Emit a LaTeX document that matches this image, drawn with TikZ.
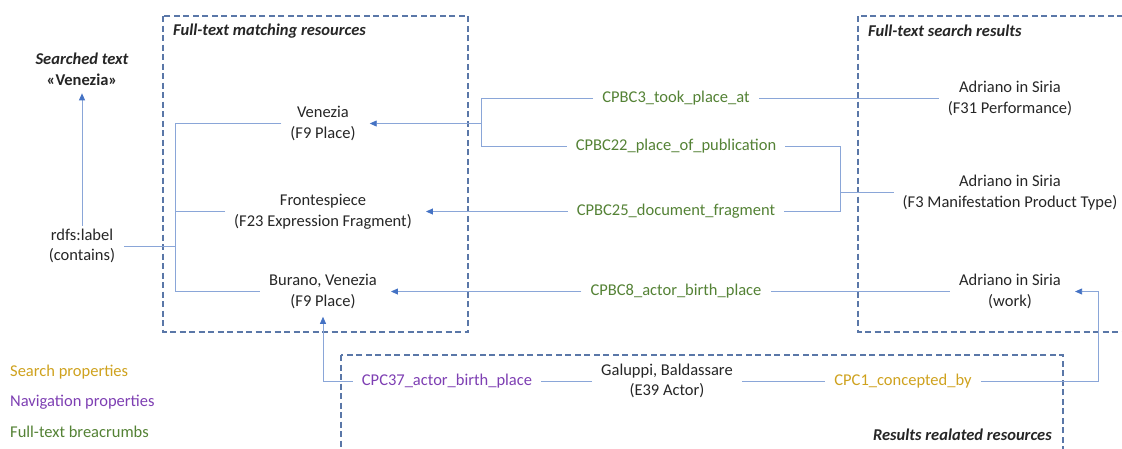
\documentclass[tikz,border=0pt]{standalone}
\usepackage{fontspec}
\setmainfont{Carlito}
\usetikzlibrary{arrows.meta}
\definecolor{txt}{HTML}{262626}
\definecolor{conn}{HTML}{8AA6D8}
\definecolor{tip}{HTML}{4472C4}
\definecolor{grp}{HTML}{5A77A8}
\definecolor{crumb}{HTML}{548235}
\definecolor{nav}{HTML}{7E3FB3}
\definecolor{srch}{HTML}{CFA21E}
\tikzset{
  base/.style={font=\fontsize{16.5}{20.6}\selectfont, text=txt, align=center, inner xsep=9pt, inner ysep=3pt},
  res/.style={base},
  crumblbl/.style={base, text=crumb},
  navlbl/.style={base, text=nav},
  srchlbl/.style={base, text=srch},
  heading/.style={base, font=\fontsize{16.5}{20.6}\selectfont\bfseries\itshape, inner xsep=6pt},
  legend/.style={base, anchor=west, inner xsep=6pt},
  link/.style={draw=conn, line width=0.8pt},
  arr/.style={link, -{Triangle[length=7pt,width=6pt,fill=tip,color=tip]}, shorten >=5pt},
  groupbox/.style={draw=grp, line width=1.2pt, dash pattern=on 6pt off 3.5pt},
}
\begin{document}
\begin{tikzpicture}[x=1pt,y=-1pt]
\clip (0,0) rectangle (1122,448);
\fill[white] (0,0) rectangle (1122,448);

% group frames
\draw[groupbox] (163,16) rectangle (468,332);
\draw[groupbox] (858,16) rectangle (1140,332);
\draw[groupbox] (341,355) rectangle (1063,470);
\node[heading, anchor=west] (hmatch) at (167,31) {Full-text matching resources};
\node[heading, anchor=west] (hsearch) at (862,31) {Full-text search results};
\node[heading, anchor=east] (hrel) at (1058,435) {Results realated resources};

% search input
\node[heading, inner xsep=9pt] (searched) at (82,69) {Searched text\\\upshape«Venezia»};
\node[res] (rdfs) at (82,246) {rdfs:label\\(contains)};

% matching resources
\node[res] (venezia) at (323,123.5) {Venezia\\(F9 Place)};
\node[res] (front) at (323,211.5) {Frontespiece\\(F23 Expression Fragment)};
\node[res] (burano) at (323,291.5) {Burano, Venezia\\(F9 Place)};

% search results
\node[res] (f31) at (1010,98.5) {Adriano in Siria\\(F31 Performance)};
\node[res] (f3) at (1010,192.5) {Adriano in Siria\\(F3 Manifestation Product Type)};
\node[res] (work) at (1010,291.5) {Adriano in Siria\\(work)};

% related resource
\node[res] (galuppi) at (667,381) {Galuppi, Baldassare\\(E39 Actor)};

% breadcrumb properties
\node[crumblbl] (l3) at (676,98.5) {CPBC3\_took\_place\_at};
\node[crumblbl] (l22) at (676,146) {CPBC22\_place\_of\_publication};
\node[crumblbl] (l25) at (676,211.5) {CPBC25\_document\_fragment};
\node[crumblbl] (l8) at (676,291.5) {CPBC8\_actor\_birth\_place};
\node[navlbl] (l37) at (447,381) {CPC37\_actor\_birth\_place};
\node[srchlbl] (l1) at (903,381) {CPC1\_concepted\_by};

% legend
\node[legend, text=srch] (kS) at (4,372) {Search properties};
\node[legend, text=nav] (kN) at (4,402) {Navigation properties};
\node[legend, text=crumb] (kC) at (4,432) {Full-text breacrumbs};

% junction columns
\coordinate (trunk) at (175,0);
\coordinate (jv) at (481,0);
\coordinate (jf) at (840,0);
\coordinate (jw) at (1098,0);

% label search
\draw[arr] (rdfs.north) -- (searched.south);
\draw[link] (rdfs.east) -- (rdfs.east -| trunk);
\draw[link] (venezia.west) -| (burano.west -| trunk) -- (burano.west);
\draw[link] (front.west) -- (front.west -| trunk);

% breadcrumbs to Venezia
\draw[link] (f31.west) -- (l3.east);
\draw[link] (l3.west) -| (l22.west -| jv) -- (l22.west);
\draw[arr] (venezia.east -| jv) -- (venezia.east);

% breadcrumbs from the manifestation
\draw[link] (l22.east) -| (l25.east -| jf) -- (l25.east);
\draw[link] (f3.west) -- (f3.west -| jf);
\draw[arr] (l25.west) -- (front.east);

% breadcrumb from the work
\draw[link] (work.west) -- (l8.east);
\draw[arr] (l8.west) -- (burano.east);

% related actor
\draw[link] (galuppi.west) -- (l37.east);
\draw[arr] (l37.west) -| (burano.south);
\draw[link] (galuppi.east) -- (l1.west);
\draw[arr] (l1.east) -| (jw |- work.east) -- (work.east);
\end{tikzpicture}
\end{document}
